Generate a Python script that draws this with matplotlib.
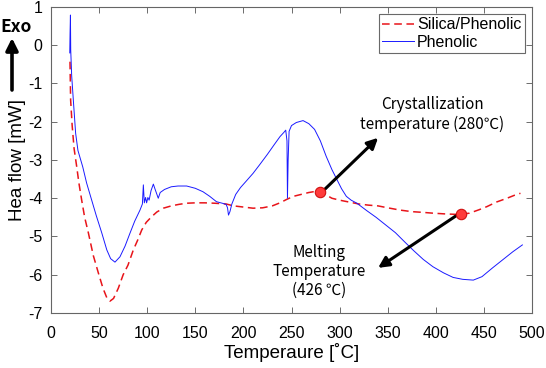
import matplotlib
matplotlib.use("Agg")
import matplotlib.pyplot as plt

# ---- data ----
phen_T = [19.5, 19.8, 20.2, 20.5, 21.5, 23.2, 25.6, 28, 30.9, 33, 37, 42.3, 47, 52.7, 58, 62,
          66.5, 71.7, 77, 82, 87, 92.5, 95, 96, 97, 98.3, 99.4, 100.7, 102, 104, 106.4, 108,
          111.5, 113.5, 118, 125, 132, 141, 150, 158, 165, 172, 178, 182, 183.5, 184.5, 186,
          188, 192, 197, 203, 210, 217, 225, 232, 238, 242, 244, 245.3, 245.8, 246.5, 247.5,
          250, 255, 262, 268, 274, 280, 286, 292, 297, 302, 307, 312, 318, 328, 338, 348, 358,
          368, 377, 387, 397, 408, 418, 428, 439, 448, 459, 470, 480, 490]
phen_H = [-0.2, 0.3, 0.79, -0.12, -0.8, -1.43, -2.3, -2.75, -3.0, -3.18, -3.6, -4.05, -4.45,
          -4.9, -5.35, -5.58, -5.67, -5.53, -5.25, -4.92, -4.6, -4.31, -4.15, -3.65, -4.12,
          -3.98, -4.12, -3.98, -4.05, -3.8, -3.63, -3.75, -4.0, -3.85, -3.77, -3.7, -3.68, -3.68,
          -3.74, -3.83, -3.95, -4.09, -4.13, -4.16, -4.25, -4.44, -4.35, -4.15, -3.9, -3.72,
          -3.55, -3.35, -3.12, -2.85, -2.6, -2.39, -2.28, -2.22, -2.5, -4.0, -3.0, -2.25, -2.1,
          -2.02, -1.97, -2.05, -2.2, -2.5, -2.9, -3.25, -3.5, -3.75, -3.95, -4.05, -4.13, -4.32,
          -4.5, -4.7, -4.9, -5.15, -5.37, -5.6, -5.79, -5.95, -6.07, -6.12, -6.14, -6.05, -5.82,
          -5.6, -5.4, -5.22]

sp_T = [19.75, 20.4, 22, 24, 26.7, 29, 31.9, 35, 38.8, 44, 49.2, 54, 58, 61.3, 65, 70, 75,
        80, 85.6, 90, 94.3, 99, 104.7, 110, 116.8, 125, 133, 141, 150, 160, 170, 182, 190, 200,
        210, 220, 230, 238, 245, 252, 260, 268, 275, 280, 285, 292, 300, 310, 320, 330, 340,
        350, 363, 375, 387, 397, 410, 420, 426, 435, 445, 453, 463, 474, 482, 488]
sp_H = [-0.43, -1.43, -2.1, -2.7, -3.17, -3.6, -4.05, -4.5, -4.9, -5.5, -5.95, -6.35, -6.6,
        -6.69, -6.62, -6.35, -6.0, -5.75, -5.35, -5.1, -4.83, -4.63, -4.48, -4.36, -4.26,
        -4.2, -4.16, -4.13, -4.12, -4.12, -4.13, -4.15, -4.2, -4.23, -4.26, -4.25, -4.2, -4.12,
        -4.03, -3.95, -3.9, -3.85, -3.82, -3.83, -3.9, -4.0, -4.05, -4.1, -4.15, -4.18, -4.2,
        -4.25, -4.31, -4.35, -4.37, -4.39, -4.41, -4.42, -4.42, -4.39, -4.3, -4.22, -4.1, -4.0,
        -3.92, -3.87]

mark_T = [280, 426]
mark_H = [-3.83, -4.42]

x_ticks = [0, 50, 100, 150, 200, 250, 300, 350, 400, 450, 500]
y_ticks = [-7, -6, -5, -4, -3, -2, -1, 0, 1]

W, H = 546, 368
fig = plt.figure(figsize=(W / 100, H / 100), dpi=100)
ax = fig.add_axes([51 / W, 1 - 313 / H, (532 - 51) / W, (313 - 7) / H])

ax.plot(sp_T, sp_H, color='#e8141a', ls=(0, (5, 3)), lw=1.1, label='Silica/Phenolic')
ax.plot(phen_T, phen_H, color='#1a1aff', lw=0.7, label='Phenolic')
ax.plot(mark_T, mark_H, 'o', ms=7.5, mfc='#ff3b3b', mec='#d01010', mew=0.8, zorder=5)

ax.set_xlim(0, 500)
ax.set_ylim(-7, 1)
ax.set_xticks(x_ticks)
ax.set_yticks(y_ticks)

tickfont = 'Liberation Sans'
ax.set_xticklabels([str(v) for v in x_ticks], fontfamily=tickfont, fontsize=11.5)
ax.set_yticklabels([str(v) for v in y_ticks], fontfamily=tickfont, fontsize=11.5)
ax.tick_params(direction='in', top=True, right=True, length=4, width=0.6,
               color='#555555', pad=6)
ax.tick_params(axis='x', pad=9)
for s in ax.spines.values():
    s.set_color('#666666')
    s.set_linewidth(0.8)

ax.set_xlabel('Temperaure [˚C]', fontfamily=tickfont, fontsize=13.5, labelpad=2)
ax.set_ylabel('Hea flow [mW]', fontfamily=tickfont, fontsize=13.5, labelpad=2)

leg = ax.legend(loc='upper right', prop={'family': tickfont, 'size': 11.5},
                frameon=True, fancybox=False, borderpad=0.2, labelspacing=0.15,
                handlelength=2.0, handletextpad=0.2, borderaxespad=0.45)
leg.get_frame().set_edgecolor('#444444')
leg.get_frame().set_linewidth(0.8)

afont = ['Noto Sans CJK KR', 'DejaVu Sans']
arrowp = dict(arrowstyle='-|>', color='black', lw=2.2, mutation_scale=16, shrinkA=0, shrinkB=0)
ax.annotate('', xy=(340, -2.42), xytext=(284, -3.78), arrowprops=arrowp)
ax.annotate('', xy=(340, -5.82), xytext=(421, -4.46), arrowprops=arrowp)

ax.text(396, -1.81, 'Crystallization\ntemperature (280℃)', ha='center', va='center',
        fontfamily=afont, fontsize=11, linespacing=1.15)
ax.text(278.6, -5.92, 'Melting\nTemperature\n(426 ℃)', ha='center', va='center',
        fontfamily=afont, fontsize=11, linespacing=1.15)

# Exo marker
fig.text(0 / W, 1 - 27 / H, 'Exo', ha='left', va='center', fontfamily=afont,
         fontweight='bold', fontsize=12.5)
fig.add_artist(matplotlib.patches.FancyArrowPatch(
    (12 / W, 1 - 90 / H), (12 / W, 1 - 38 / H), transform=fig.transFigure,
    arrowstyle='-|>', color='black', lw=2.6, mutation_scale=18, shrinkA=0, shrinkB=0))

fig.savefig('out.png', dpi=100)
